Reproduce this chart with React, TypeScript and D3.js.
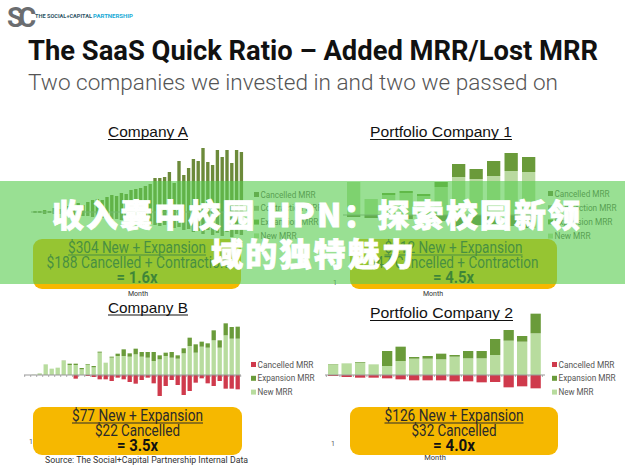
import React from "react";
import * as d3 from "d3";

// ---------- Data ----------
// Company A (positive = new+expansion, negative = cancelled+contraction)
const aAdded = [1,1,2,1,4,3,5,6,8,9,7,10,12,13,12,15,17,16,19,18,22,23,24,26,28,34,34,35,40,29,51,37,44,53,51,64,50,47,62,55,62,49,62,60];
const aLost = [1,1,2,1,2,2,3,2,3,3,4,4,5,5,6,6,7,7,8,8,9,10,10,11,12,13,14,13,15,16,15,18,17,20,19,22,18,23,21,24,20,25,22,23];

// Portfolio Company 1
const p1New = [33,16,20,22,19,28,38,36,39,44,43];
const p1Exp = [0,0,2,2,2,5,13,10,15,18,15];
const p1Canc = [2,3,3,4,3,6,12,10,9,11,13];

// Company B
const bNew = [0,1,5,32,19,22,42,30,30,17,31,23,67,37,52,57,57,55,62,55,52,42,47,57,52,49,65,87,67,85,82,104,82,119,109,109];
const bExp = [0,0,0,0,0,0,1,4,4,4,2,4,3,0,3,7,20,10,17,14,17,27,12,10,17,10,15,25,25,15,13,30,22,36,35,36];
const bCanc = [0,0,0,0,0,0,0,0,11,0,3,6,13,13,18,8,13,21,26,15,8,25,63,33,15,30,60,48,23,10,25,33,18,41,41,43];

// Portfolio Company 2
const p2New = [32,35,37,32,27,42,49,49,47,55,50,50,60,103,100,125];
const p2Exp = [1,0,2,0,45,43,5,8,17,5,22,22,48,32,17,59];
const p2Canc = [3,6,8,8,10,13,16,16,16,19,19,22,21,37,34,40];

const legendTop = ["Cancelled MRR", "Contraction MRR", "Expansion MRR", "New MRR"];
const legendBottom = ["Cancelled MRR", "Expansion MRR", "New MRR"];

const boxA = ["$304 New + Expansion", "$188 Cancelled + Contraction", "= 1.6x"];
const boxP1 = ["$212 New + Expansion", "$47 Cancelled + Contraction", "= 4.5x"];
const boxB = ["$77 New + Expansion", "$22 Cancelled", "= 3.5x"];
const boxP2 = ["$126 New + Expansion", "$32 Cancelled", "= 4.0x"];

const titleMain = "The SaaS Quick Ratio – Added MRR/Lost MRR";
const subTitle = "Two companies we invested in and two we passed on";
const overlay1 = "收入囊中校园 HPN：探索校园新领";
const overlay2 = "域的独特魅力";

// ---------- Styles ----------
const C = {
  oliveBar: "#6C8A3A",
  oliveNeg: "#7B8A5A",
  topCanc: "#6E7B48",
  topContr: "#A3A88C",
  topExp: "#6A9A3A",
  topNew: "#B9D9A0",
  red: "#CF3A4C",
  dkGreen: "#6A9B3A",
  ltGreen: "#B8DC9E",
  yellow: "#F6B800",
  axis: "#999",
};
const SANS = "Roboto, 'Liberation Sans', sans-serif";
const ARIAL = "'Liberation Sans', Arial, sans-serif";

function Underlined({ x, y, text, size, width, font = SANS, weight = 400, fill = "#222" }: any) {
  return (
    <g>
      <text x={x} y={y} textAnchor="middle" fontFamily={font} fontSize={size} fontWeight={weight}
        fill={fill} textLength={width} lengthAdjust="spacingAndGlyphs">{text}</text>
      <line x1={x - width / 2} x2={x + width / 2} y1={y + 2.5} y2={y + 2.5} stroke={fill} strokeWidth={1} />
    </g>
  );
}

function Box({ x, y, w, h, lines, widths }: any) {
  const cx = x + w / 2;
  return (
    <g>
      <rect x={x} y={y} width={w} height={h} rx={9} fill={C.yellow} />
      <Underlined x={cx} y={y + 13.5} text={lines[0]} size={16} width={widths[0]} fill="#2a2a2a" />
      <text x={cx} y={y + 28.5} textAnchor="middle" fontFamily={SANS} fontSize={16} fill="#2a2a2a"
        textLength={widths[1]} lengthAdjust="spacingAndGlyphs">{lines[1]}</text>
      <text x={cx} y={y + 44} textAnchor="middle" fontFamily={SANS} fontSize={16} fontWeight={700} fill="#111"
        textLength={widths[2]} lengthAdjust="spacingAndGlyphs">{lines[2]}</text>
    </g>
  );
}

function Legend({ x, y0, step, labels, colors, widths }: any) {
  return (
    <g>
      {labels.map((l: string, i: number) => (
        <g key={l}>
          <rect x={x} y={y0 + i * step - 3} width={5} height={5} fill={colors[i]} />
          <text x={x + 6.5} y={y0 + i * step + 2.5} fontFamily={SANS} fontSize={8.5} fill="#555"
            textLength={widths[i]} lengthAdjust="spacingAndGlyphs">{l}</text>
        </g>
      ))}
    </g>
  );
}

function Axis({ x, y, x1, ticks }: any) {
  return (
    <g>
      <line x1={x} x2={x1} y1={y} y2={y} stroke={C.axis} strokeWidth={1} />
      {ticks.map((t: number, i: number) => (
        <line key={i} x1={t} x2={t} y1={y} y2={y + 2} stroke={C.axis} strokeWidth={0.8} />
      ))}
    </g>
  );
}

export default function App() {
  // ---- Company A ----
  const aM = aAdded.map((_, i) => i + 1);
  const xA = d3.scaleBand<number>().domain(aM).range([32.6, 243.8]).paddingInner(0.3).paddingOuter(0.15);
  const yA = d3.scaleLinear().domain([0, 100]).range([212, 112]);

  // ---- Portfolio 1 ----
  const p1M = p1New.map((_, i) => i + 1);
  const xP1 = d3.scaleBand<number>().domain(p1M).range([344.9, 537.4]).paddingInner(0.24).paddingOuter(0.12);
  const yP1 = d3.scaleLinear().domain([0, 100]).range([215, 115]);

  // ---- Company B ----
  const bM = bNew.map((_, i) => i + 1);
  const xB = d3.scaleBand<number>().domain(bM).range([24.7, 240.7]).paddingInner(0.28).paddingOuter(0.14);
  const yB = d3.scaleLinear().domain([0, 150]).range([375, 325]);

  // ---- Portfolio 2 ----
  const p2M = p2New.map((_, i) => i + 1);
  const xP2 = d3.scaleBand<number>().domain(p2M).range([326.4, 542.4]).paddingInner(0.237).paddingOuter(0.118);
  const yP2 = d3.scaleLinear().domain([0, 150]).range([375, 325]);

  const stacked = (xs: any, ys: any, m: number[], series: number[][], colors: string[], neg: number[], negColor: string) => (
    <g>
      {m.map((mm, i) => {
        let acc = 0;
        const segs = series.map((s, k) => {
          const y0 = acc, y1 = acc + s[i];
          acc = y1;
          if (s[i] <= 0) return null;
          return <rect key={k} x={xs(mm)} width={xs.bandwidth()} y={ys(y1)} height={ys(y0) - ys(y1)} fill={colors[k]} />;
        });
        return (
          <g key={mm}>
            {segs}
            {neg[i] > 0 && <rect x={xs(mm)} width={xs.bandwidth()} y={ys(0)} height={ys(-neg[i]) - ys(0)} fill={negColor} />}
          </g>
        );
      })}
    </g>
  );

  const ticksOf = (xs: any, m: number[]) => m.map((mm) => xs(mm) - (xs.step() - xs.bandwidth()) / 2).concat([xs.range()[1]]);

  const CJK = "'Noto Sans CJK SC', sans-serif";

  return (
    <svg width={625} height={467} style={{ position: "absolute", left: 0, top: 0, display: "block" }}>
      <rect width={625} height={467} fill="#fff" />

      {/* Logo */}
      <text x={7} y={27} fontFamily={SANS} fontSize={27} fontWeight={700} fill="#6b6d70" letterSpacing={-5}>SC</text>
      <text x={35} y={17.5} fontFamily={SANS} fontSize={5.5} fontWeight={700} fill="#2f5566" textLength={57} lengthAdjust="spacingAndGlyphs">THE SOCIAL+CAPITAL</text>
      <text x={93} y={17.5} fontFamily={SANS} fontSize={5.5} fontWeight={700} fill="#19aad6" textLength={40} lengthAdjust="spacingAndGlyphs">PARTNERSHIP</text>

      {/* Titles */}
      <text x={28} y={60} fontFamily={SANS} fontSize={28} fontWeight={700} fill="#111" textLength={570} lengthAdjust="spacingAndGlyphs">{titleMain}</text>
      <text x={28} y={90} fontFamily={SANS} fontSize={22.5} fontWeight={300} fill="#555" textLength={530} lengthAdjust="spacingAndGlyphs">{subTitle}</text>

      {/* ===== Company A ===== */}
      <Underlined x={148} y={137} text="Company A" size={15} width={80} font={ARIAL} fill="#111" />
      {stacked(xA, yA, aM, [aAdded], [C.oliveBar], aLost, C.oliveNeg)}
      <Axis x={31} x1={244} y={212} ticks={[]} />
      <Legend x={254} y0={195} step={13.8} labels={legendTop} colors={[C.topCanc, C.topContr, C.topExp, C.topNew]} widths={[55, 62, 58, 36]} />
      <text x={138} y={296} textAnchor="middle" fontFamily={SANS} fontSize={7} fill="#333">Month</text>
      <Box x={33} y={239} w={208} h={50} lines={boxA} widths={[138, 181, 41]} />

      {/* ===== Portfolio Company 1 ===== */}
      <Underlined x={441} y={137} text="Portfolio Company 1" size={15.5} width={142} font={ARIAL} fill="#111" />
      {stacked(xP1, yP1, p1M, [p1New, p1Exp], [C.topNew, C.topExp], p1Canc, C.topCanc)}
      <Axis x={343} x1={540} y={215} ticks={[]} />
      <Legend x={548} y0={194} step={14.2} labels={legendTop} colors={[C.topCanc, C.topContr, C.topExp, C.topNew]} widths={[55, 62, 58, 36]} />
      <text x={335} y={285} textAnchor="middle" fontFamily={SANS} fontSize={7} fill="#555">1</text>
      <text x={433} y={296} textAnchor="middle" fontFamily={SANS} fontSize={7} fill="#333">Month</text>
      <Box x={350} y={239} w={207} h={50} lines={boxP1} widths={[138, 170, 41]} />

      {/* ===== Company B ===== */}
      <Underlined x={148} y={312.5} text="Company B" size={15} width={80} font={ARIAL} fill="#111" />
      {stacked(xB, yB, bM, [bNew, bExp], [C.ltGreen, C.dkGreen], bCanc, C.red)}
      <Axis x={24} x1={241} y={375} ticks={ticksOf(xB, bM)} />
      <Legend x={251} y0={365} step={13.8} labels={legendBottom} colors={[C.red, C.dkGreen, C.ltGreen]} widths={[56, 57, 35]} />
      <text x={31} y={444} textAnchor="middle" fontFamily={SANS} fontSize={7} fill="#555">1</text>
      <Box x={33} y={407} w={209} h={48} lines={boxB} widths={[131, 85, 41]} />
      <text x={45} y={463} fontFamily={SANS} fontSize={8.5} fill="#333" textLength={203} lengthAdjust="spacingAndGlyphs">Source: The Social+Capital Partnership Internal Data</text>

      {/* ===== Portfolio Company 2 ===== */}
      <Underlined x={441.5} y={318} text="Portfolio Company 2" size={15.5} width={143} font={ARIAL} fill="#111" />
      {stacked(xP2, yP2, p2M, [p2New, p2Exp], [C.ltGreen, C.dkGreen], p2Canc, C.red)}
      <Axis x={325} x1={545} y={375} ticks={ticksOf(xP2, p2M)} />
      <Legend x={552} y0={365} step={13.8} labels={legendBottom} colors={[C.red, C.dkGreen, C.ltGreen]} widths={[56, 57, 35]} />
      <text x={333} y={446} textAnchor="middle" fontFamily={SANS} fontSize={7} fill="#555">1</text>
      <text x={435} y={460} textAnchor="middle" fontFamily={SANS} fontSize={7.5} fill="#333">Month</text>
      <Box x={350} y={407} w={208} h={48} lines={boxP2} widths={[139, 85, 42]} />

      {/* ===== Overlay band ===== */}
      <rect x={0} y={181} width={625} height={103} fill="rgb(90,205,80)" opacity={0.62} />
      <text x={316} y={227} textAnchor="middle" fontFamily={CJK} fontSize={32} fontWeight={900}
        fill="#fff" stroke="#fff" strokeWidth={0.8} textLength={528} lengthAdjust="spacing">{overlay1}</text>
      <text x={312.5} y={266} textAnchor="middle" fontFamily={CJK} fontSize={32} fontWeight={900}
        fill="#fff" stroke="#fff" strokeWidth={0.8} textLength={203} lengthAdjust="spacing">{overlay2}</text>
    </svg>
  );
}
